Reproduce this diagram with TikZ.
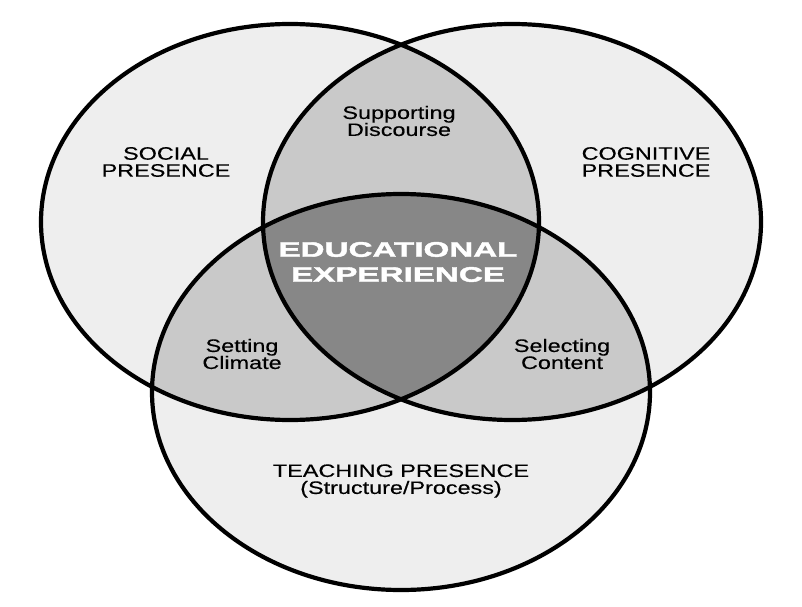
\documentclass[tikz,border=0pt]{standalone}
\usepackage{fontspec}
\setmainfont{Liberation Sans}
\newfontfamily\labfont[FakeStretch=1.3,FakeBold=0.3]{Liberation Sans}
\newfontfamily\corefont[FakeStretch=1.58,FakeBold=2]{Liberation Sans Bold}
\definecolor{outerfill}{HTML}{EEEEEE}
\definecolor{pairfill}{HTML}{C9C9C9}
\definecolor{corefill}{HTML}{878787}
\begin{document}
\begin{tikzpicture}[x=1pt,y=1pt,
  lab/.style={font=\labfont\fontsize{18}{17}\selectfont,align=center,inner sep=0pt},
  ring/.style={line width=4.2pt}]
\useasboundingbox (0,0) rectangle (802,606);
\def\socpath{(290,384) ellipse [x radius=249,y radius=198]}
\def\cogpath{(512,384) ellipse [x radius=249,y radius=198]}
\def\teapath{(401,214) ellipse [x radius=249,y radius=198]}
% regions
\fill[outerfill] \socpath;
\fill[outerfill] \cogpath;
\fill[outerfill] \teapath;
\begin{scope}
  \clip \socpath;
  \fill[pairfill] \cogpath;
  \fill[pairfill] \teapath;
\end{scope}
\begin{scope}
  \clip \cogpath;
  \fill[pairfill] \teapath;
\end{scope}
\begin{scope}
  \clip \socpath;
  \clip \cogpath;
  \fill[corefill] \teapath;
\end{scope}
\draw[ring] \socpath;
\draw[ring] \cogpath;
\draw[ring] \teapath;
% labels
\node[lab] (soc) at (166,444) {SOCIAL\\PRESENCE};
\node[lab] (cog) at (646,444) {COGNITIVE\\PRESENCE};
\node[lab] (sup) at (399,485) {Supporting\\Discourse};
\node[lab] (set) at (242,252) {Setting\\Climate};
\node[lab] (sel) at (562,252) {Selecting\\Content};
\node[lab] (tea) at (401,125) {TEACHING PRESENCE\\(Structure/Process)};
\node[font=\corefont\fontsize{21}{25}\selectfont,text=white,align=center,inner sep=0pt] (edu) at (398,344) {EDUCATIONAL\\EXPERIENCE};
\end{tikzpicture}
\end{document}
